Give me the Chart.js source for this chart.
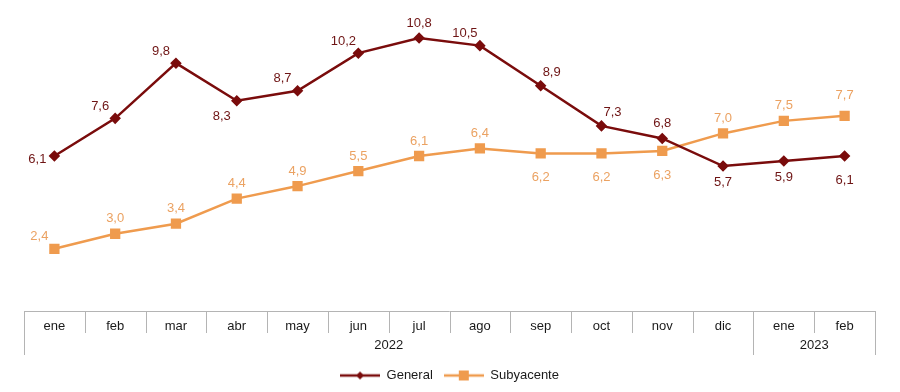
<!DOCTYPE html>
<html>
<head>
<meta charset="utf-8">
<script src="https://cdn.jsdelivr.net/npm/chart.js@4"></script>
<style>
	html, body { margin: 0; padding: 0; background: #fff; }
	#wrap { width: 900px; height: 392px; }
</style>
</head>
<body>
<div id="wrap"><canvas id="ipc"></canvas></div>
<script>
var months = ['ene', 'feb', 'mar', 'abr', 'may', 'jun', 'jul', 'ago', 'sep', 'oct', 'nov', 'dic', 'ene', 'feb'];
var years = ['2022', '2023'];
var yearSpan = [12, 2]; // months per year
var general = [6.1, 7.6, 9.8, 8.3, 8.7, 10.2, 10.8, 10.5, 8.9, 7.3, 6.8, 5.7, 5.9, 6.1];
var subyacente = [2.4, 3.0, 3.4, 4.4, 4.9, 5.5, 6.1, 6.4, 6.2, 6.2, 6.3, 7.0, 7.5, 7.7];

// where each value label sits relative to its point
var generalLabelPos = ['l', 'tl', 'tl', 'bl', 'tl', 'tl', 't', 'tl', 'tr', 'tr', 't', 'b', 'b', 'bb'];
var subyacenteLabelPos = ['tl', 't', 't', 't', 't', 't', 't', 't', 'bb', 'bb', 'bb', 't', 't', 'tt'];
var labelOffsets = {
	l: [-17, 3], tl: [-15, -12], t: [0, -15], tt: [0, -20], bl: [-15, 16],
	tr: [11, -13], b: [0, 16], bb: [0, 24]
};

var RED = '#7a0c0c';
var ORANGE = '#ef9b4e';
var FONT = '"Liberation Sans", Arial, sans-serif';

function legendIcon(color, style) {
	var c = document.createElement('canvas');
	c.width = 40; c.height = 12;
	var g = c.getContext('2d');
	g.strokeStyle = color;
	g.lineWidth = 2.5;
	g.beginPath(); g.moveTo(0, 6); g.lineTo(40, 6); g.stroke();
	g.fillStyle = color;
	if (style === 'rect') {
		g.fillRect(15, 1, 10, 10);
	} else {
		g.beginPath();
		g.moveTo(20, 2); g.lineTo(24, 6); g.lineTo(20, 10); g.lineTo(16, 6);
		g.closePath(); g.fill();
	}
	return c;
}

var valueLabels = {
	id: 'valueLabels',
	afterDatasetsDraw: function(chart) {
		var ctx = chart.ctx;
		var placements = [generalLabelPos, subyacenteLabelPos];
		var colors = ['#6e1414', '#eba262'];
		ctx.save();
		ctx.font = '13px ' + FONT;
		ctx.textAlign = 'center';
		ctx.textBaseline = 'middle';
		chart.data.datasets.forEach(function(ds, di) {
			var meta = chart.getDatasetMeta(di);
			ctx.fillStyle = colors[di];
			meta.data.forEach(function(pt, i) {
				var off = labelOffsets[placements[di][i]];
				var txt = ds.data[i].toFixed(1).replace('.', ',');
				ctx.fillText(txt, pt.x + off[0], pt.y + off[1]);
			});
		});
		ctx.restore();
	}
};

var axisTable = {
	id: 'axisTable',
	afterDraw: function(chart) {
		var ctx = chart.ctx;
		var x = chart.scales.x;
		var step = (x.right - x.left) / months.length;
		var top = x.top + 2;
		var mid = top + 22;
		var bottom = top + 44;
		ctx.save();
		ctx.strokeStyle = '#b4b4b4';
		ctx.lineWidth = 1;
		ctx.beginPath();
		ctx.moveTo(x.left, top + 0.5); ctx.lineTo(x.right, top + 0.5);
		for (var i = 0; i <= months.length; i++) {
			var px = Math.round(x.left + i * step) + 0.5;
			ctx.moveTo(px, top); ctx.lineTo(px, mid);
		}
		var acc = 0;
		ctx.moveTo(Math.round(x.left) + 0.5, mid); ctx.lineTo(Math.round(x.left) + 0.5, bottom);
		yearSpan.forEach(function(n) {
			acc += n;
			var px = Math.round(x.left + acc * step) + 0.5;
			ctx.moveTo(px, mid); ctx.lineTo(px, bottom);
		});
		ctx.stroke();

		ctx.fillStyle = '#1a1a1a';
		ctx.font = '13px ' + FONT;
		ctx.textAlign = 'center';
		ctx.textBaseline = 'middle';
		var start = 0;
		years.forEach(function(yr, k) {
			var cx = x.left + (start + yearSpan[k] / 2) * step;
			ctx.fillText(yr, cx, mid + 12);
			start += yearSpan[k];
		});
		ctx.restore();
	}
};

new Chart(document.getElementById('ipc'), {
	type: 'line',
	data: {
		labels: months,
		datasets: [{
			label: 'General',
			data: general,
			borderColor: RED,
			backgroundColor: RED,
			borderWidth: 2.5,
			pointStyle: 'rectRot',
			pointRadius: 4,
			pointHoverRadius: 4,
			tension: 0
		}, {
			label: 'Subyacente',
			data: subyacente,
			borderColor: ORANGE,
			backgroundColor: ORANGE,
			borderWidth: 2.5,
			pointStyle: 'rect',
			pointRadius: 5.5,
			pointHoverRadius: 5.5,
			tension: 0
		}]
	},
	options: {
		responsive: true,
		maintainAspectRatio: false,
		animation: false,
		layout: { padding: { left: 24, right: 25, top: 5, bottom: 0 } },
		scales: {
			y: { display: false, min: 0, max: 12 },
			x: {
				offset: true,
				grid: { display: false },
				border: { display: false },
				ticks: {
					color: '#1a1a1a',
					font: { family: FONT, size: 13 },
					padding: 2,
					maxRotation: 0,
					autoSkip: false
				},
				afterFit: function(scale) { scale.height = 49; }
			}
		},
		plugins: {
			tooltip: { enabled: false },
			legend: {
				position: 'bottom',
				labels: {
					usePointStyle: true,
					pointStyleWidth: 40,
					color: '#1a1a1a',
					font: { family: FONT, size: 13 },
					padding: 11,
					generateLabels: function(chart) {
						var icons = [legendIcon(RED, 'rectRot'), legendIcon(ORANGE, 'rect')];
						return chart.data.datasets.map(function(ds, i) {
							return {
								text: ds.label,
								pointStyle: icons[i],
								fillStyle: ds.borderColor,
								strokeStyle: ds.borderColor,
								lineWidth: 0,
								fontColor: '#1a1a1a',
								datasetIndex: i
							};
						});
					}
				}
			}
		}
	},
	plugins: [valueLabels, axisTable]
});
</script>
</body>
</html>
